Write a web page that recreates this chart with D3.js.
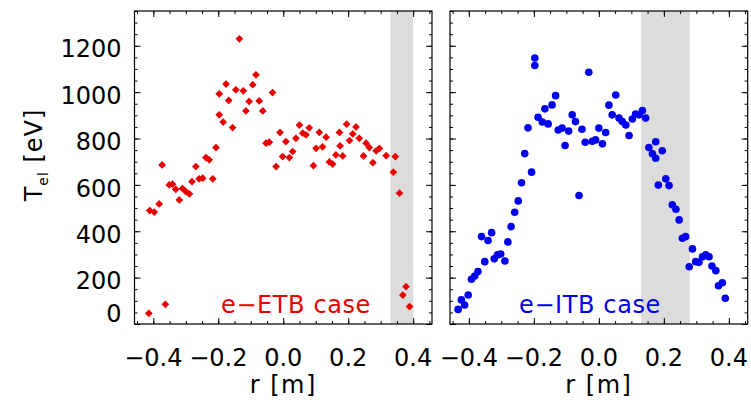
<!DOCTYPE html>
<html>
<head>
<meta charset="utf-8">
<script src="https://cdn.jsdelivr.net/npm/d3@7"></script>
<style>
  body { margin: 0; background: #fff; }
  text { font-family: "DejaVu Sans", sans-serif; }
</style>
</head>
<body>
<div id="chart"></div>
<script>
// data: r [m], Tel [eV]
var etbR = [-0.414,-0.411,-0.397,-0.382,-0.373,-0.363,-0.351,-0.341,-0.331,-0.320,-0.310,-0.300,-0.289,-0.281,-0.269,-0.259,-0.248,-0.238,-0.228,-0.217,-0.207,-0.197,-0.197,-0.185,-0.176,-0.168,-0.156,-0.146,-0.135,-0.123,-0.115,-0.105,-0.094,-0.084,-0.074,-0.063,-0.053,-0.043,-0.033,-0.022,-0.010,-0.002,0.008,0.019,0.029,0.039,0.050,0.060,0.070,0.080,0.093,0.101,0.111,0.121,0.132,0.142,0.152,0.162,0.173,0.175,0.183,0.195,0.204,0.214,0.224,0.234,0.247,0.255,0.265,0.276,0.286,0.296,0.317,0.339,0.345,0.358,0.368,0.378,0.389];
var etbT = [46,489,483,518,686,85,600,603,581,535,584,571,561,614,679,626,629,718,708,626,761,902,993,871,1035,964,847,1010,1230,1006,919,960,1032,1075,962,919,780,784,998,679,826,722,787,718,744,801,858,823,816,846,683,758,826,764,806,699,690,729,826,768,725,862,791,820,850,801,725,780,761,696,747,757,726,655,722,564,125,161,75];

var itbR = [-0.433,-0.423,-0.413,-0.402,-0.392,-0.382,-0.372,-0.361,-0.351,-0.341,-0.330,-0.322,-0.312,-0.302,-0.289,-0.280,-0.270,-0.259,-0.248,-0.238,-0.228,-0.218,-0.207,-0.197,-0.197,-0.187,-0.174,-0.166,-0.156,-0.144,-0.133,-0.125,-0.113,-0.104,-0.093,-0.082,-0.072,-0.061,-0.052,-0.042,-0.031,-0.020,-0.010,0.000,0.011,0.021,0.031,0.041,0.052,0.062,0.072,0.083,0.093,0.103,0.113,0.124,0.134,0.144,0.154,0.165,0.175,0.175,0.183,0.195,0.206,0.216,0.226,0.237,0.247,0.257,0.267,0.278,0.288,0.298,0.308,0.319,0.329,0.339,0.348,0.360,0.368,0.380,0.389];
var itbT = [63,104,82,125,193,207,226,377,269,360,394,281,298,302,272,354,420,482,531,609,735,846,655,1147,1115,892,871,928,863,945,985,837,845,770,832,902,873,554,840,784,1086,788,794,845,777,826,944,902,988,888,873,858,813,884,906,902,921,888,761,734,786,715,599,747,626,597,514,495,449,370,377,247,324,269,266,290,298,290,250,230,165,178,111];

var xTicks = [-0.4, -0.2, 0.0, 0.2, 0.4];
var yTicks = [0, 200, 400, 600, 800, 1000, 1200];
var etbBand = [0.33, 0.40];
var itbBand = [0.13, 0.28];
var xDomain = [-0.458, 0.458];
var yDomain = [0, 1350];

var W = 751, H = 406;
var plotTop = 11, plotBottom = 324;

var svg = d3.select("#chart").append("svg")
  .attr("width", W).attr("height", H);
svg.append("rect").attr("width", W).attr("height", H).attr("fill", "#fff");

var y = d3.scaleLinear().domain(yDomain).range([plotBottom, plotTop]);

function panel(left, right, rs, ts, band, color, label, shape, showY) {
  var x = d3.scaleLinear().domain(xDomain).range([left, right]);
  var g = svg.append("g");

  // shaded region
  g.append("rect")
    .attr("x", x(band[0])).attr("y", plotTop)
    .attr("width", x(band[1]) - x(band[0]))
    .attr("height", plotBottom - plotTop)
    .attr("fill", "#dcdcdc");

  // ticks on all four sides, pointing in
  var xMinor = d3.range(-0.45, 0.4501, 0.05);
  var yMinor = d3.range(50, 1351, 50);
  function ax(a, s, vals, len) {
    return a(s).tickValues(vals).tickSize(len).tickFormat("").tickSizeOuter(0);
  }
  [[d3.axisBottom, plotBottom], [d3.axisTop, plotTop]].forEach(function (o) {
    g.append("g").attr("transform", "translate(0," + o[1] + ")").call(ax(o[0], x, xTicks, -6));
    g.append("g").attr("transform", "translate(0," + o[1] + ")").call(ax(o[0], x, xMinor, -3));
  });
  [[d3.axisLeft, left], [d3.axisRight, right]].forEach(function (o) {
    g.append("g").attr("transform", "translate(" + o[1] + ",0)").call(ax(o[0], y, yTicks, -6));
    g.append("g").attr("transform", "translate(" + o[1] + ",0)").call(ax(o[0], y, yMinor, -3));
  });
  g.selectAll(".domain").remove();
  g.selectAll(".tick line").attr("stroke", "#000").attr("stroke-width", 1);

  g.append("rect")
    .attr("x", left).attr("y", plotTop)
    .attr("width", right - left).attr("height", plotBottom - plotTop)
    .attr("fill", "none").attr("stroke", "#000").attr("stroke-width", 1.2);

  // points
  var pts = d3.range(rs.length).map(function (i) { return [rs[i], ts[i]]; });
  if (shape == "diamond") {
    g.selectAll(".pt").data(pts).enter().append("path")
      .attr("class", "pt")
      .attr("d", d3.symbol(d3.symbolSquare, 30))
      .attr("transform", function (d) { return "translate(" + x(d[0]) + "," + y(d[1]) + ") rotate(45)"; })
      .attr("fill", color);
  } else {
    g.selectAll(".pt").data(pts).enter().append("circle")
      .attr("class", "pt")
      .attr("cx", function (d) { return x(d[0]); })
      .attr("cy", function (d) { return y(d[1]); })
      .attr("r", 3.8)
      .attr("fill", color);
  }

  g.append("text")
    .attr("x", label.x).attr("y", 313)
    .attr("text-anchor", "middle")
    .attr("fill", color)
    .style("font-size", "24px")
    .style("letter-spacing", "0.6px")
    .text(label.text);

  // x tick labels
  g.selectAll(".xl").data(xTicks).enter().append("text")
    .attr("x", function (d) { return x(d); })
    .attr("y", 366)
    .attr("text-anchor", "middle")
    .style("font-size", "24px")
    .text(function (d) { return d3.format(".1f")(d).replace("-", "\u2212"); });

  g.append("text")
    .attr("x", (left + right) / 2).attr("y", 393)
    .attr("text-anchor", "middle")
    .style("font-size", "24px")
    .style("letter-spacing", "1.5px")
    .text("r [m]");

  if (showY) {
    g.selectAll(".yl").data(yTicks).enter().append("text")
      .attr("x", left - 13)
      .attr("y", function (d) { return d == 0 ? y(d) - 2.5 : y(d) + 11.7; })
      .attr("text-anchor", "end")
      .style("font-size", "24px")
      .text(function (d) { return d; });
  }
  return x;
}

panel(134.5, 432, etbR, etbT, etbBand, "#e80000",
  { text: "e\u2212ETB case", x: 296 }, "diamond", true);
panel(450, 747.7, itbR, itbT, itbBand, "#0000f0",
  { text: "e\u2212ITB case", x: 590 }, "circle", false);

// y title
var yt = svg.append("text")
  .attr("transform", "translate(42,155) rotate(-90)")
  .attr("text-anchor", "middle")
  .style("font-size", "24px")
  .style("letter-spacing", "1px");
yt.append("tspan").text("T");
yt.append("tspan").attr("dy", 6).style("font-size", "14px").text("el");
yt.append("tspan").attr("dy", -6).text(" [eV]");
</script>
</body>
</html>
